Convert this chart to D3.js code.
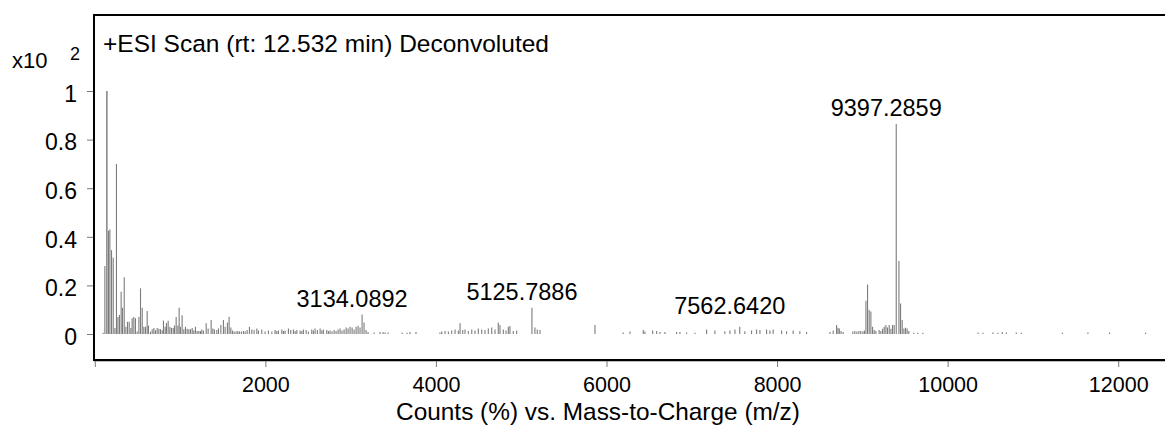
<!DOCTYPE html>
<html><head><meta charset="utf-8">
<script src="https://cdn.jsdelivr.net/npm/d3@7"></script>
<style>
html,body{margin:0;padding:0;background:#fff;}
svg{display:block;font-family:"Liberation Sans",Arial,Helvetica,sans-serif;}
</style></head><body>
<svg id="chart" width="1165" height="426"></svg>
<script>
// Deconvoluted spectrum: mass (m/z) and relative counts (x10^2 %)
const mzValues = [
  98,118,142,161,177,196,216,236,254,271,289,309,325,345,364,383,403,423,438,458,
  477,497,517,536,556,575,594,614,629,653,673,693,711,731,751,770,790,805,825,840,
  860,880,899,919,934,954,974,989,1004,1024,1044,1063,1083,1103,1122,1142,1161,1180,1200,1220,
  1239,1255,1274,1306,1329,1364,1384,1403,1431,1450,1478,1508,1528,1555,1575,1595,1614,1634,1657,1677,
  1696,1719,1743,1763,1786,1813,1841,1868,1900,1919,1958,1997,2036,2076,2114,2134,2153,2193,2212,2231,
  2270,2298,2329,2349,2369,2407,2427,2446,2478,2505,2544,2563,2583,2610,2642,2662,2680,2720,2739,2759,
  2782,2806,2829,2853,2876,2899,2923,2947,2970,2993,3017,3040,3064,3087,3110,3134.0892,3157,3181,3204,3275,
  3345,3380,3404,3439,3603,3661,3696,3766,4047,4068,4107,4146,4185,4224,4263,4283,4314,4341,4380,4420,
  4458,4497,4537,4575,4614,4654,4693,4731,4751,4790,4822,4849,4868,4907,4947,5125.7886,5161,5188,5220,5865,
  6196,6275,6431,6451,6541,6588,6627,6685,6822,6861,6939,7037,7174,7271,7388,7447,7506,7562.6420,7622,7701,
  7760,7799,7877,7916,7954,8053,8111,8189,8267,8346,8620,8658,8698,8714,8730,8750,8775,8888,8912,8935,
  8959,8982,9006,9024,9042,9061,9080,9100,9120,9139,9159,9197,9217,9237,9256,9276,9295,9315,9335,9354,
  9373,9397.2859,9429,9448,9467,9487,9506,9525,9545,9603,9650,9709,10356,10414,10531,10590,10641,10688,10805,10864,
  11345,11645,11899,12321
];
const intensities = [
  0.005,0.28,1.0,0.425,0.43,0.345,0.314,0.025,0.70,0.07,0.078,0.174,0.108,0.234,0.03,0.05,0.05,0.025,0.065,0.07,
  0.065,0.01,0.07,0.188,0.108,0.03,0.03,0.095,0.035,0.01,0.02,0.025,0.015,0.025,0.022,0.02,0.015,0.055,0.03,0.045,
  0.055,0.03,0.025,0.025,0.035,0.07,0.035,0.108,0.03,0.077,0.02,0.03,0.022,0.02,0.02,0.025,0.015,0.03,0.012,0.012,
  0.012,0.019,0.014,0.044,0.023,0.058,0.023,0.019,0.016,0.023,0.037,0.058,0.030,0.047,0.071,0.027,0.014,0.010,0.010,0.012,
  0.010,0.010,0.012,0.010,0.016,0.030,0.019,0.016,0.023,0.014,0.019,0.010,0.014,0.010,0.016,0.012,0.014,0.019,0.012,0.014,
  0.023,0.016,0.019,0.012,0.016,0.014,0.012,0.019,0.016,0.010,0.019,0.014,0.023,0.016,0.023,0.014,0.019,0.016,0.012,0.014,
  0.010,0.016,0.012,0.019,0.023,0.014,0.019,0.027,0.023,0.030,0.027,0.019,0.030,0.034,0.027,0.080,0.047,0.016,0.008,0.006,
  0.008,0.008,0.006,0.006,0.006,0.005,0.008,0.008,0.006,0.010,0.012,0.010,0.014,0.019,0.014,0.044,0.016,0.019,0.012,0.019,
  0.014,0.023,0.019,0.016,0.023,0.027,0.019,0.047,0.037,0.019,0.014,0.030,0.033,0.012,0.014,0.108,0.027,0.019,0.016,0.037,
  0.006,0.010,0.016,0.010,0.014,0.012,0.008,0.008,0.008,0.008,0.006,0.005,0.019,0.014,0.011,0.014,0.019,0.030,0.011,0.014,
  0.019,0.016,0.019,0.014,0.019,0.014,0.011,0.014,0.011,0.008,0.008,0.014,0.037,0.026,0.023,0.012,0.008,0.010,0.012,0.010,
  0.012,0.012,0.010,0.014,0.137,0.204,0.099,0.093,0.030,0.016,0.012,0.016,0.012,0.022,0.030,0.037,0.027,0.037,0.022,0.037,
  0.037,0.864,0.30,0.126,0.058,0.023,0.026,0.023,0.012,0.005,0.005,0.005,0.006,0.005,0.006,0.005,0.008,0.006,0.006,0.005,
  0.005,0.006,0.006,0.005
];
// Annotated peaks
const labeledMz = [3134.0892, 5125.7886, 7562.6420, 9397.2859];
const xTicks = [0, 2000, 4000, 6000, 8000, 10000, 12000];
const yTicks = [0, 0.2, 0.4, 0.6, 0.8, 1];

const titleText = "+ESI Scan (rt: 12.532 min) Deconvoluted";
const xAxisTitle = "Counts (%) vs. Mass-to-Charge (m/z)";

const svg = d3.select("#chart");
const frame = {left: 94, top: 15, right: 1200, bottom: 360};

const x = d3.scaleLinear().domain([0, 12000]).range([94.8, 1118.2]);
const y = d3.scaleLinear().domain([0, 1]).range([334, 91]);

const peaks = mzValues.map((m, i) => ({mz: m, v: intensities[i]}));

// spectrum sticks
svg.append("g").selectAll("line").data(peaks).join("line")
  .attr("x1", d => x(d.mz)).attr("x2", d => x(d.mz))
  .attr("y1", y(0)).attr("y2", d => y(d.v))
  .attr("stroke", d => d.v >= 0.95 ? "#555" : "#7c7c7c").attr("stroke-width", 1.1);

// frame
svg.append("rect")
  .attr("x", frame.left).attr("y", frame.top)
  .attr("width", frame.right - frame.left).attr("height", frame.bottom - frame.top)
  .attr("fill", "none").attr("stroke", "#000").attr("stroke-width", 2);
svg.append("line")
  .attr("x1", frame.left).attr("x2", frame.right)
  .attr("y1", frame.bottom + 1.5).attr("y2", frame.bottom + 1.5)
  .attr("stroke", "#bbb").attr("stroke-width", 1);

// y axis
const yAxis = d3.axisLeft(y).tickValues(yTicks).tickSize(6).tickPadding(10)
  .tickFormat(d => d3.format("~g")(d));
const gy = svg.append("g").attr("transform", `translate(${frame.left - 1},0)`).call(yAxis);
gy.select(".domain").remove();
gy.selectAll(".tick line").attr("stroke", "#777");
gy.selectAll(".tick text").attr("font-size", 23).attr("fill", "#000")
  .attr("font-family", "Liberation Sans, Arial, sans-serif").attr("dy", "0.45em");

// x axis
const xAxis = d3.axisBottom(x).tickValues(xTicks).tickSize(6).tickPadding(10)
  .tickFormat(d => d === 0 ? "" : d3.format("d")(d));
const gx = svg.append("g").attr("transform", `translate(0,${frame.bottom + 1})`).call(xAxis);
gx.select(".domain").remove();
gx.selectAll(".tick line").attr("stroke", "#777");
gx.selectAll(".tick text").attr("font-size", 21.5).attr("fill", "#000")
  .attr("font-family", "Liberation Sans, Arial, sans-serif");

// axis captions
svg.append("text").attr("x", 598).attr("y", 420).attr("text-anchor", "middle")
  .attr("font-size", 24.4).text(xAxisTitle);
svg.append("text").attr("x", 12).attr("y", 68).attr("font-size", 22).text("x10");
svg.append("text").attr("x", 70).attr("y", 60).attr("font-size", 18).text("2");

// scan title
svg.append("text").attr("x", 103).attr("y", 52).attr("font-size", 24.5).text(titleText);

// peak annotations, lifted clear of short sticks
svg.append("g").selectAll("text").data(peaks.filter(d => labeledMz.includes(d.mz))).join("text")
  .attr("x", d => x(d.mz) - 10).attr("y", d => y(Math.max(d.v, 0.05)) - 8)
  .attr("text-anchor", "middle").attr("font-size", 23.5)
  .text(d => d.mz.toFixed(4));
</script>
</body></html>
